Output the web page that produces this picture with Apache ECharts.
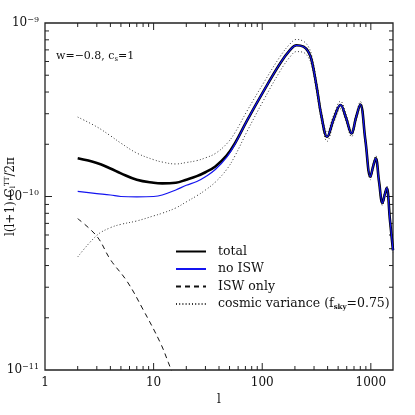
<!DOCTYPE html>
<html>
<head>
<meta charset="utf-8">
<script src="https://cdn.jsdelivr.net/npm/echarts@6/dist/echarts.min.js"></script>
<style>
  html, body { margin: 0; padding: 0; background: #fff; }
  #main { width: 415px; height: 415px; }
</style>
</head>
<body>
<div id="main"></div>
<script>
// multipoles and spectra (y in units of 1e-10)
var ells = [2, 3, 4, 5, 7, 10, 12, 16, 20, 25, 30, 37, 47, 56, 72, 102, 146, 180, 207, 240, 265, 285, 317, 352, 396, 455, 526, 590, 664, 730, 800, 890, 991, 1050, 1109, 1190, 1279, 1340, 1400, 1500, 1600];
var total = [1.66, 1.56, 1.45, 1.36, 1.25, 1.20, 1.19, 1.20, 1.25, 1.31, 1.38, 1.49, 1.72, 2.02, 2.72, 4.01, 5.84, 6.97, 7.44, 7.30, 6.85, 6.11, 4.29, 2.88, 2.21, 2.80, 3.37, 2.85, 2.31, 2.85, 3.39, 2.12, 1.30, 1.49, 1.66, 1.22, 0.917, 1.02, 1.12, 0.73, 0.49];
var noIsw = [1.07, 1.04, 1.02, 1.00, 0.995, 1.00, 1.02, 1.09, 1.16, 1.22, 1.30, 1.43, 1.68, 2.00, 2.72, 4.01, 5.84, 6.97, 7.44, 7.30, 6.85, 6.11, 4.29, 2.88, 2.21, 2.80, 3.37, 2.85, 2.31, 2.85, 3.39, 2.12, 1.30, 1.49, 1.66, 1.22, 0.917, 1.02, 1.12, 0.73, 0.49];
var cvUpper = [2.87, 2.52, 2.24, 2.03, 1.78, 1.63, 1.58, 1.54, 1.57, 1.61, 1.67, 1.77, 2.01, 2.33, 3.09, 4.47, 6.40, 7.57, 8.04, 7.84, 7.34, 6.53, 4.57, 3.06, 2.34, 2.95, 3.54, 2.99, 2.41, 2.97, 3.53, 2.20, 1.35, 1.54, 1.72, 1.26, 0.947, 1.05, 1.15, 0.752, 0.504];
var cvLower = [0.448, 0.597, 0.661, 0.691, 0.723, 0.773, 0.801, 0.859, 0.931, 1.01, 1.09, 1.21, 1.43, 1.71, 2.35, 3.55, 5.28, 6.37, 6.84, 6.76, 6.36, 5.69, 4.01, 2.70, 2.08, 2.65, 3.20, 2.71, 2.21, 2.73, 3.25, 2.04, 1.25, 1.44, 1.60, 1.18, 0.887, 0.988, 1.09, 0.708, 0.476];
var iswEll = [2, 3, 4, 5.7, 8, 11.5, 13.7, 16];
var iswOnly = [0.745, 0.59, 0.433, 0.324, 0.223, 0.144, 0.110, 0.085];

// axis ticks
var xMajor = [10, 100, 1000];
var xMinor = [2, 3, 4, 5, 6, 7, 8, 9, 20, 30, 40, 50, 60, 70, 80, 90, 200, 300, 400, 500, 600, 700, 800, 900];
var yMajor = [1];
var yMinor = [0.2, 0.3, 0.4, 0.5, 0.6, 0.7, 0.8, 0.9, 2, 3, 4, 5, 6, 7, 8, 9];

var FONT = 'DejaVu Serif';
var INK = '#222';

function pairs(xs, ys) {
  return xs.map(function (x, i) { return [x, ys[i]]; });
}

var chart = echarts.init(document.getElementById('main'));

function tickLine(x1, y1, x2, y2) {
  return { type: 'line', shape: { x1: x1, y1: y1, x2: x2, y2: y2 }, style: { stroke: INK, lineWidth: 1 } };
}

chart.setOption({
  animation: false,
  title: {
    text: 'w=−0.8, c{s|s}=1',
    left: 51, top: 45,
    textStyle: {
      fontFamily: FONT, fontSize: 11, fontWeight: 'normal', color: '#111',
      rich: { s: { fontFamily: FONT, fontSize: 7, verticalAlign: 'bottom', padding: [6, 0, 0, 0], color: '#111' } }
    }
  },
  legend: {
    orient: 'vertical',
    left: 170, top: 240,
    itemWidth: 30, itemHeight: 13, itemGap: 4.5,
    data: ['total', 'no ISW', 'ISW only', 'cosmic variance'],
    itemStyle: { opacity: 0 },
    formatter: function (name) {
      if (name === 'cosmic variance') return 'cosmic variance (f{s|sky}=0.75)';
      return name;
    },
    textStyle: {
      fontFamily: FONT, fontSize: 12.5, color: '#111', padding: [0, 0, 0, 7],
      rich: { s: { fontFamily: FONT, fontSize: 7, fontWeight: 'bold', verticalAlign: 'bottom', padding: [6, 0, 0, 0], color: '#111' } }
    }
  },
  grid: {
    left: 45, right: 22, top: 23, bottom: 45,
    outerBoundsMode: 'none',
    show: true, borderColor: INK, borderWidth: 1.3, backgroundColor: 'transparent'
  },
  xAxis: {
    type: 'log', logBase: 10, min: 1, max: 1600,
    name: 'l', nameLocation: 'middle', nameGap: 24, nameMoveOverlap: false,
    nameTextStyle: { fontFamily: FONT, fontSize: 12, color: '#111' },
    axisLine: { show: false }, axisTick: { show: false }, splitLine: { show: false },
    axisLabel: {
      fontFamily: FONT, fontSize: 12, color: '#111', margin: 7,
      formatter: function (v) {
        var e = Math.log10(v);
        return Math.abs(e - Math.round(e)) < 1e-6 ? String(Math.round(v)) : '';
      }
    }
  },
  yAxis: {
    type: 'log', logBase: 10, min: 0.1, max: 10,
    name: 'l(l+1) C{sub|l}{sup|TT}/2π', nameLocation: 'middle', nameRotate: 90, nameGap: 28,
    nameMoveOverlap: false,
    nameTextStyle: {
      fontFamily: FONT, fontSize: 12, color: '#111',
      rich: {
        sub: { fontFamily: FONT, fontSize: 7, verticalAlign: 'bottom', padding: [5, 0, 0, 0], color: '#111' },
        sup: { fontFamily: FONT, fontSize: 7, verticalAlign: 'top', padding: [0, 0, 6, 0], color: '#111' }
      }
    },
    axisLine: { show: false }, axisTick: { show: false }, splitLine: { show: false },
    axisLabel: {
      fontFamily: FONT, fontSize: 12, color: '#111', margin: 6,
      formatter: function (v) {
        var e = Math.round(Math.log10(v)) - 10;
        return '10{s|' + (e < 0 ? '−' + (-e) : e) + '}';
      },
      rich: { s: { fontFamily: FONT, fontSize: 8, verticalAlign: 'top', padding: [0, 0, 7, 0], color: '#111' } }
    }
  },
  series: [
    {
      name: 'cosmic variance', type: 'line', data: pairs(ells, cvUpper),
      smooth: 0.4, symbol: 'none', silent: true,
      itemStyle: { color: '#333' },
      lineStyle: { color: '#333', width: 1, type: [1, 2.2] }
    },
    {
      name: 'cosmic variance', type: 'line', data: pairs(ells, cvLower),
      smooth: 0.4, symbol: 'none', silent: true,
      itemStyle: { color: '#333' },
      lineStyle: { color: '#333', width: 1, type: [1, 2.2] }
    },
    {
      name: 'ISW only', type: 'line', data: pairs(iswEll, iswOnly),
      smooth: 0.4, symbol: 'none', silent: true,
      itemStyle: { color: '#111' },
      lineStyle: { color: '#111', width: 1, type: [5, 4] }
    },
    {
      name: 'total', type: 'line', data: pairs(ells, total),
      smooth: 0.4, symbol: 'none', silent: true,
      itemStyle: { color: '#000' },
      lineStyle: { color: '#000', width: 2.6 }
    },
    {
      name: 'no ISW', type: 'line', data: pairs(ells, noIsw),
      smooth: 0.4, symbol: 'none', silent: true,
      itemStyle: { color: '#1414f0' },
      lineStyle: { color: '#1414f0', width: 1.2 }
    },
    {
      // x ticks on bottom and top frame
      type: 'custom', silent: true, clip: false,
      data: xMinor.map(function (v) { return [v, 1, 4]; }).concat(xMajor.map(function (v) { return [v, 1, 7]; })),
      renderItem: function (params, api) {
        var l = api.value(0), len = api.value(2);
        var b = api.coord([l, 0.1]), t = api.coord([l, 10]);
        return { type: 'group', children: [tickLine(b[0], b[1], b[0], b[1] - len), tickLine(t[0], t[1], t[0], t[1] + len)] };
      }
    },
    {
      // y ticks on left and right frame
      type: 'custom', silent: true, clip: false,
      data: yMinor.map(function (v) { return [1, v, 4]; }).concat(yMajor.map(function (v) { return [1, v, 7]; })),
      renderItem: function (params, api) {
        var v = api.value(1), len = api.value(2);
        var a = api.coord([1, v]), r = api.coord([1600, v]);
        return { type: 'group', children: [tickLine(a[0], a[1], a[0] + len, a[1]), tickLine(r[0], r[1], r[0] - len, r[1])] };
      }
    }
  ]
});
</script>
</body>
</html>
